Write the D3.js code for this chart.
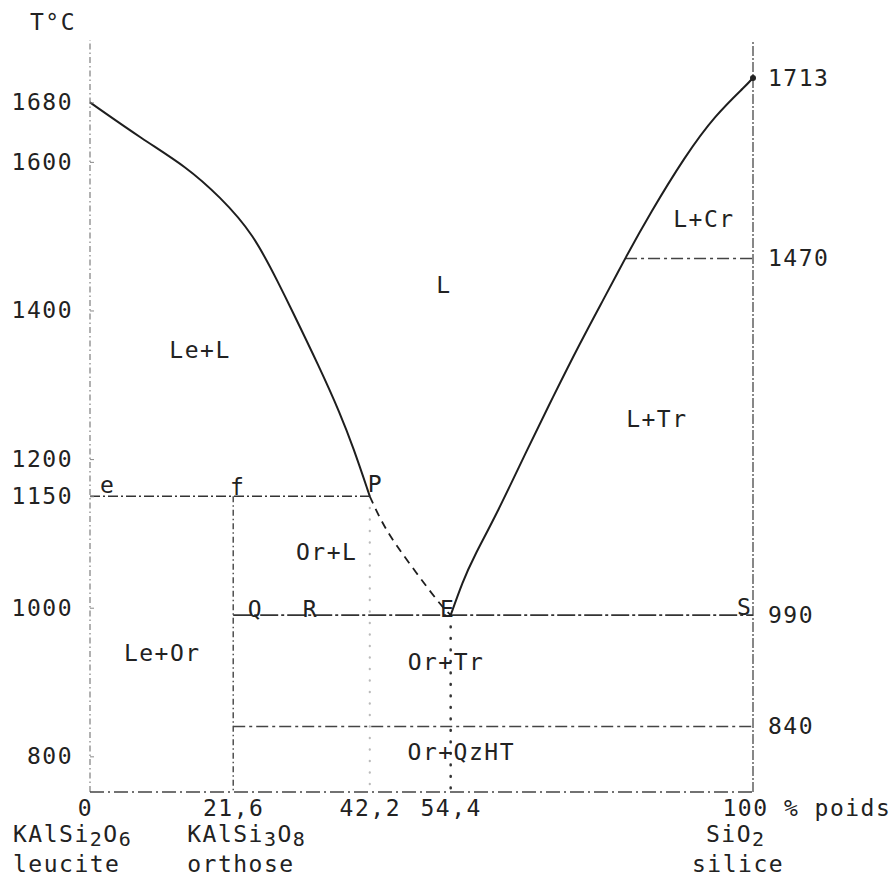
<!DOCTYPE html>
<html>
<head>
<meta charset="utf-8">
<script src="https://cdn.jsdelivr.net/npm/d3@7"></script>
<style>
  html, body { margin: 0; padding: 0; background: #fff; }
  svg text {
    font-family: 'DejaVu Sans Mono', monospace;
    font-size: 23px;
    letter-spacing: 1.5px;
    fill: #222;
  }
  svg text tspan.sub { font-size: 20px; }
</style>
</head>
<body>
<svg id="chart" width="894" height="878"></svg>
<script>
// Leucite (KAlSi2O6) – silica (SiO2) binary, composition in wt % SiO2
const compTicks = [0, 21.6, 42.2, 54.4, 100];
const tempTicksLeft = [1680, 1600, 1400, 1200, 1150, 1000, 800];
const tempTicksRight = [1713, 1470, 990, 840];

// Leucite liquidus, from the melting point down to the peritectic P
const leuciteLiqX = [0, 8.0, 14.6, 19.6, 24.6, 28.7, 30.2, 34.7, 37.7, 39.7, 42.2];
const leuciteLiqT = [1680, 1630, 1593, 1553, 1504, 1432, 1405, 1322, 1262, 1216, 1150];

// Metastable continuation P -> E (dashed)
const peritecticX = [42.2, 44.5, 48.3, 52.8, 54.4];
const peritecticT = [1150, 1105, 1058, 1004, 990];

// Silica liquidus, from the eutectic E up to the melting point of SiO2
const silicaLiqX = [54.4, 56.2, 57.8, 61.4, 65.9, 69.8, 73.9, 78.0, 80.7, 84.5, 89.7, 94.3, 99.1, 100];
const silicaLiqT = [990, 1035, 1067, 1127, 1212, 1283, 1356, 1424, 1470, 1531, 1607, 1663, 1704, 1713];

// Isotherms: temperature, start and end composition
const isoT    = [1470, 1150, 990, 840];
const isoFrom = [80.7, 0, 21.6, 21.6];
const isoTo   = [100, 42.2, 100, 100];

// Vertical composition lines: composition, upper temperature
const vertX   = [21.6, 42.2, 54.4];
const vertTop = [1150, 1150, 990];

// Phase fields
const fieldNames = ['L', 'Le+L', 'L+Cr', 'L+Tr', 'Or+L', 'Le+Or', 'Or+Tr', 'Or+QzHT'];
const fieldX = [53.4, 16.6, 92.6, 85.5, 35.7, 10.9, 53.7, 56.0];
const fieldT = [1434, 1347, 1524, 1254, 1076, 939, 927, 806];

// Named points
const pointNames = ['e', 'f', 'P', 'Q', 'R', 'E', 'S'];
const pointX = [1.5, 21.1, 41.9, 23.8, 32.1, 52.8, 97.6];
const pointT = [1154, 1152, 1156, 988, 988, 988, 990];

const tMin = 752, tMax = 1764;

const svg = d3.select('#chart');
const x = d3.scaleLinear().domain([0, 100]).range([90, 753]);
const y = d3.scaleLinear().domain([tMin, tMax]).range([792, 40]);

const line = d3.line().x(d => x(d[0])).y(d => y(d[1]));
const smooth = d3.line().x(d => x(d[0])).y(d => y(d[1])).curve(d3.curveBasis);
const zip = (a, b) => a.map((v, i) => [v, b[i]]);

// Frame: two temperature axes and the composition baseline
const frame = svg.append('g').attr('fill', 'none');
frame.append('path')
  .attr('d', line([[0, tMin], [0, tMax]]))
  .attr('stroke', '#888').attr('stroke-width', 1.3).attr('stroke-dasharray', '6,3,1.5,3');
frame.append('path')
  .attr('d', line([[100, tMin], [100, tMax]]))
  .attr('stroke', '#555').attr('stroke-width', 1.4).attr('stroke-dasharray', '10,2,2,2');
frame.append('path')
  .attr('d', line([[0, tMin], [100, tMin]]))
  .attr('stroke', '#444').attr('stroke-width', 1.5).attr('stroke-dasharray', '14,4,2,4');

// Vertical lines
const vertStyle = [
  { stroke: '#444', width: 1.4, dash: '6,3,1.5,3', cap: 'butt' },
  { stroke: '#bbb', width: 2.2, dash: '0.5,11', cap: 'round' },
  { stroke: '#333', width: 2.6, dash: '0.5,11', cap: 'round' }
];
svg.append('g').attr('fill', 'none').selectAll('path')
  .data(vertX.map((v, i) => ({ x: v, top: vertTop[i], s: vertStyle[i] })))
  .join('path')
  .attr('d', d => line([[d.x, d.top], [d.x, tMin]]))
  .attr('stroke', d => d.s.stroke)
  .attr('stroke-width', d => d.s.width)
  .attr('stroke-dasharray', d => d.s.dash)
  .attr('stroke-linecap', d => d.s.cap);

// Isotherms
const isoStyle = [
  { stroke: '#444', width: 1.5, dash: '12,4,3,4' },
  { stroke: '#333', width: 1.6, dash: '10,3,2,3' },
  { stroke: '#333', width: 1.8, dash: '18,3,3,3' },
  { stroke: '#444', width: 1.5, dash: '12,4,3,4' }
];
svg.append('g').attr('fill', 'none').selectAll('path')
  .data(isoT.map((t, i) => ({ t, a: isoFrom[i], b: isoTo[i], s: isoStyle[i] })))
  .join('path')
  .attr('d', d => line([[d.a, d.t], [d.b, d.t]]))
  .attr('stroke', d => d.s.stroke)
  .attr('stroke-width', d => d.s.width)
  .attr('stroke-dasharray', d => d.s.dash);

// Liquidus curves
const liq = svg.append('g').attr('fill', 'none').attr('stroke', '#1e1e1e');
liq.append('path')
  .attr('d', smooth(zip(leuciteLiqX, leuciteLiqT)))
  .attr('stroke-width', 2);
liq.append('path')
  .attr('d', smooth(zip(peritecticX, peritecticT)))
  .attr('stroke-width', 1.8)
  .attr('stroke-dasharray', '8,6');
liq.append('path')
  .attr('d', smooth(zip(silicaLiqX, silicaLiqT)))
  .attr('stroke-width', 2);

// Melting point of silica
svg.append('circle')
  .attr('cx', x(100)).attr('cy', y(1713)).attr('r', 3)
  .attr('fill', '#222');

// Axes
const left = svg.append('g')
  .attr('transform', `translate(${x(0)},0)`)
  .call(d3.axisLeft(y).tickValues(tempTicksLeft).tickSize(-4).tickPadding(17).tickFormat(d3.format('d')));
left.select('.domain').remove();
left.selectAll('.tick line').attr('stroke', '#888');

const right = svg.append('g')
  .attr('transform', `translate(${x(100)},0)`)
  .call(d3.axisRight(y).tickValues(tempTicksRight).tickSize(0).tickPadding(15).tickFormat(d3.format('d')));
right.select('.domain').remove();

const bottom = svg.append('g')
  .attr('transform', `translate(0,${y(tMin)})`)
  .call(d3.axisBottom(x).tickValues(compTicks).tickSize(0).tickPadding(8)
    .tickFormat(d => d === 100 ? '100 % poids' : String(d).replace('.', ',')));
bottom.select('.domain').remove();
bottom.selectAll('.tick text')
  .filter(d => d === 0)
  .attr('x', -5);
bottom.selectAll('.tick text')
  .filter(d => d === 100)
  .attr('text-anchor', 'start')
  .attr('x', -31);

// Axis title
svg.append('text').attr('x', 30).attr('y', 30).text('T°C');

// End-member formulas and names
const members = [
  { parts: [['KAlSi', 0], ['2', 1], ['O', 0], ['6', 1]], name: 'leucite', at: 0, dx: -77, ndx: -77 },
  { parts: [['KAlSi', 0], ['3', 1], ['O', 0], ['8', 1]], name: 'orthose', at: 21.6, dx: -46, ndx: -46 },
  { parts: [['SiO', 0], ['2', 1]], name: 'silice', at: 100, dx: -47, ndx: -61 }
];
members.forEach(m => {
  const t = svg.append('text').attr('x', x(m.at) + m.dx).attr('y', 842);
  let prev = 0;
  m.parts.forEach(([s, sub]) => {
    t.append('tspan')
      .attr('class', sub ? 'sub' : null)
      .attr('dy', (sub - prev) * 4)
      .text(s);
    prev = sub;
  });
  svg.append('text').attr('x', x(m.at) + m.ndx).attr('y', 872).text(m.name);
});

// Phase-field labels
svg.append('g').selectAll('text')
  .data(fieldNames.map((n, i) => ({ n, x: fieldX[i], t: fieldT[i] })))
  .join('text')
  .attr('x', d => x(d.x))
  .attr('y', d => y(d.t))
  .attr('dy', '0.36em')
  .attr('text-anchor', 'middle')
  .text(d => d.n);

// Point labels
svg.append('g').selectAll('text')
  .data(pointNames.map((n, i) => ({ n, x: pointX[i], t: pointT[i] })))
  .join('text')
  .attr('x', d => x(d.x))
  .attr('y', d => y(d.t))
  .text(d => d.n);
</script>
</body>
</html>
